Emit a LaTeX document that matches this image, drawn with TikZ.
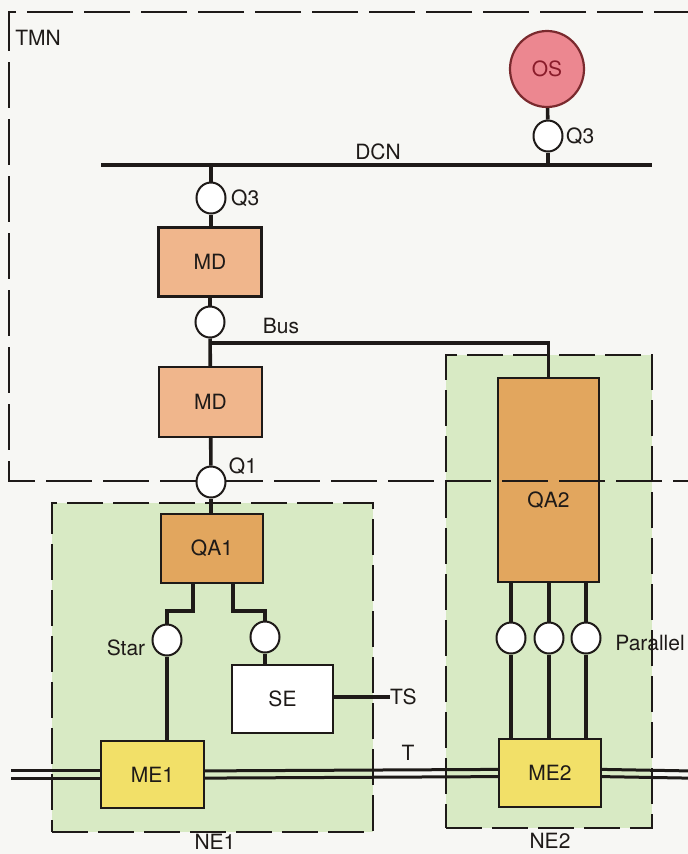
\documentclass[tikz,border=0pt]{standalone}
\usepackage{fontspec}
\usetikzlibrary{shapes.geometric}
\setmainfont{TeX Gyre Heros}
\definecolor{bgc}{HTML}{F7F7F4}
\definecolor{grn}{HTML}{D8EAC4}
\definecolor{osf}{HTML}{EC8790}
\definecolor{osd}{HTML}{7A2A2E}
\definecolor{osT}{HTML}{8A1C2A}
\definecolor{mdf}{HTML}{F0B68C}
\definecolor{qaf}{HTML}{E2A65E}
\definecolor{mef}{HTML}{F2E068}
\definecolor{ink}{HTML}{1E1A18}
\begin{document}
\begin{tikzpicture}[x=1pt,y=-1pt,
  every node/.style={font=\fontsize{21}{24}\selectfont, text=ink},
  blk/.style={draw=ink, line width=2.4pt, minimum width=103pt, inner sep=0pt},
  port/.style={ellipse, draw=ink, fill=white, line width=2pt, minimum width=29pt, minimum height=31pt, inner sep=0pt},
  wire/.style={draw=ink, line width=3.6pt},
  nebox/.style={draw=ink, fill=grn, line width=2.2pt, dash pattern=on 36pt off 10pt, inner sep=0pt},
  tmnline/.style={draw=ink, line width=2.2pt, dash pattern=on 46pt off 11pt},
  lbl/.style={inner sep=1pt}]
\fill[bgc] (0,0) rectangle (688,854);
\useasboundingbox (0,0) rectangle (688,854);
\clip (0,0) rectangle (688,854);
% network element boxes
\node[nebox, minimum width=321pt, minimum height=329pt] (ne1) at (212.5,667.5) {};
\node[nebox, minimum width=206pt, minimum height=473pt] (ne2) at (549,591.5) {};
\node[blk, fill=qaf, minimum width=101pt, minimum height=204pt] (qa2) at (548.5,480) {};
% TMN boundary
\draw[tmnline] (700,12) -- (9,12) -- (9,481) -- (700,481);
\node[lbl, text=ink] (qa2t) at (548.5,500) {QA2};
% TMN part
\node[lbl] (tmn) at (38,38) {TMN};
\node[ellipse, draw=osd, fill=osf, line width=2.2pt, minimum width=74pt, minimum height=76pt, inner sep=0pt, text=osT] (os) at (547,69) {OS};
\node[port] (q3a) at (548,136) {};
\node[lbl, anchor=west] (q3al) at (565,136) {Q3};
\coordinate (dcnL) at (101,165);
\coordinate (dcnR) at (652,165);
\node[lbl] (dcn) at (378,152) {DCN};
\node[port] (q3b) at (211,198) {};
\node[lbl, anchor=west] (q3bl) at (230,198) {Q3};
\node[blk, fill=mdf, minimum height=69pt] (md1) at (210,262) {MD};
\node[port] (bus) at (210,322) {};
\node[lbl] (busl) at (281,326) {Bus};
\coordinate (bj) at (210,343);
\node[blk, fill=mdf, minimum height=70pt] (md2) at (210.5,402) {MD};
\node[port] (q1) at (211,482) {};
\node[lbl] (q1l) at (243,466) {Q1};
% NE1
\node[blk, fill=qaf, minimum width=102pt, minimum height=69pt] (qa1) at (212,548.5) {QA1};
\node[port] (star) at (167,640) {};
\node[lbl] (starl) at (126,648) {Star};
\node[port] (sep) at (265,637) {};
\node[blk, fill=white, minimum width=101pt, minimum height=68pt] (se) at (282.5,699) {SE};
\node[lbl, anchor=west, inner sep=0pt] (ts) at (390,697) {TS};
\node[blk, fill=mef, minimum width=103pt, minimum height=67pt] (me1) at (152.5,774.5) {ME1};
\node[lbl] (ne1l) at (215,842) {NE1};
% NE2
\node[port] (p1) at (511,638) {};
\node[port] (p2) at (549,638) {};
\node[port] (p3) at (586,638) {};
\node[lbl] (parl) at (650,643) {Parallel};
\node[blk, fill=mef, minimum width=102pt, minimum height=68pt] (me2) at (550,773) {ME2};
\node[lbl] (ne2l) at (550,841) {NE2};
\node[lbl] (tl) at (408,753) {T};
\coordinate (tL) at (11,774.5);
\coordinate (tR) at (688,774.5);
% connectors
\draw[wire] (dcnL) -- (dcnR);
\draw[wire] (os) -- (q3a);
\draw[wire] (q3a) -- (q3a |- dcnL);
\draw[wire] (q3b |- dcnL) -- (q3b);
\draw[wire] (q3b) -- (q3b |- md1.north);
\draw[wire] (md1) -- (bus);
\draw[wire] (bus) -- (md2);
\draw[wire] (bj) -| (qa2.north);
\draw[wire] (md2) -- (q1);
\draw[wire] (q1) -- (q1 |- qa1.north);
\draw[wire] ([xshift=-19pt]qa1.south) -- ++(0,27) -| (star.north);
\draw[wire] ([xshift=21pt]qa1.south) -- ++(0,27) -| (sep.north);
\draw[wire] (star) -- (star |- me1.north);
\draw[wire] (sep) -- (sep |- se.north);
\draw[wire] (se.east |- ts.west) -- (ts.west);
\foreach \p in {p1,p2,p3}{
  \draw[wire] (\p |- qa2.south) -- (\p);
  \draw[wire] (\p) -- (\p |- me2.north);
}
\foreach \s in {3.6pt,-3.6pt}{
  \draw[wire, line width=3pt] ([yshift=\s]tL) -- ([yshift=\s]tL -| me1.west);
  \draw[wire, line width=3pt] ([yshift=\s]me1.east) -- ([yshift=\s]me2.west);
  \draw[wire, line width=3pt] ([yshift=\s]me2.east) -- ([yshift=\s]tR);
}
\end{tikzpicture}
\end{document}
